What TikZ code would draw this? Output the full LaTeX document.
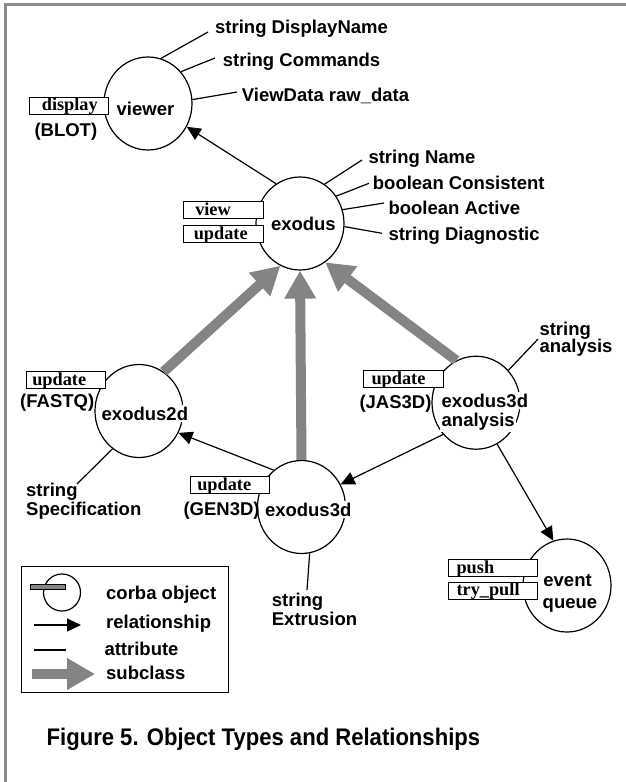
\documentclass[tikz,border=0pt]{standalone}
\usepackage{graphicx}
\usepackage{fontspec}
\setmainfont{Liberation Sans}
\newfontfamily\opfont{Liberation Serif}
\usetikzlibrary{arrows.meta,shapes.geometric}
\definecolor{subgray}{RGB}{132,132,132}
\definecolor{framegray}{RGB}{140,140,140}

\begin{document}
\begin{tikzpicture}[x=1pt,y=-1pt,
  obj/.style={draw,line width=1.2pt,ellipse,minimum width=88pt,minimum height=93pt,inner sep=0pt},
  lbl/.style={font=\fontsize{18.5}{20}\selectfont\bfseries,inner sep=0pt,anchor=base west},
  inlbl/.style={lbl,fill=white,inner sep=1.5pt},
  op/.style={draw,line width=1.1pt,fill=white,anchor=north west,inner ysep=0pt,
    text height=13.7pt,text depth=3.3pt,align=left,
    font=\opfont\fontsize{18.3}{20}\selectfont\bfseries},
  rel/.style={line width=1.2pt,-{Triangle[length=14pt,width=13pt]}},
  attr/.style={line width=1.2pt},
  sub/.style={line width=10pt,draw=subgray,-{Triangle[length=28pt,width=30pt]}},
]
\useasboundingbox (0,0) rectangle (626,782);
\fill[white] (0,0) rectangle (626,782);

% frame
\draw[line width=3pt,framegray] (5.3,782) -- (5.3,4.2) -- (626,4.2);

% objects
\node[obj] (viewer)   at (148,103.5) {};
\node[obj] (exodus)   at (300,223.5) {};
\node[obj] (exo2d)    at (139,411) {};
\node[obj] (exo3da)   at (476,402.7) {};
\node[obj] (exo3d)    at (301.5,507) {};
\node[obj] (evq)      at (567,585.5) {};

% subclass arrows
\draw[sub] (exo2d.58.6) -- (exodus.-115.4);
\draw[sub] (exo3d.north) -- (exodus.south);
\draw[sub] (exo3da.115.2) -- (exodus.-57.2);

% relationships
\draw[rel] (exodus.121) -- (viewer.-31.6);
\draw[rel] (exo3d.127.5) -- (exo2d.-29.6);
\draw[rel] (exo3da.224.7) -- (exo3d.30.1);
\draw[rel] (exo3da.-63.9) -- (evq.107.7);

% attribute ends
\coordinate (vA) at (208,32);
\coordinate (vB) at (215,58);
\coordinate (vC) at (237,92);
\coordinate (eA) at (362,160);
\coordinate (eB) at (369,183.3);
\coordinate (eC) at (384,203);
\coordinate (eD) at (382,233.3);
\coordinate (dA) at (77,484);
\coordinate (tA) at (307,590);
\coordinate (aA) at (538,339);

\draw[attr] (viewer.74.6) -- (vA);
\draw[attr] (viewer.44.5) -- (vB);
\draw[attr] (viewer.5.8) -- (vC);
\draw[attr] (exodus.58.6) -- (eA);
\draw[attr] (exodus.37) -- (eB);
\draw[attr] (exodus.18.3) -- (eC);
\draw[attr] (exodus.-4.9) -- (eD);
\draw[attr] (exo2d.-125.4) -- (dA);
\draw[attr] (exo3d.-80) -- (tA);
\draw[attr] (exo3da.45.6) -- (aA);

% attribute texts
\node[lbl] (tDisp) at (215,33.3) {string DisplayName};
\node[lbl] (tCmd)  at (222.7,66) {string Commands};
\node[lbl] (tRaw)  at (241.7,101.7) {ViewData raw\_data};
\node[lbl] (tName) at (368.3,163.3) {string Name};
\node[lbl] (tCons) at (372.7,189) {boolean Consistent};
\node[lbl] (tAct)  at (388.3,214.7) {boolean Active};
\node[lbl] (tDiag) at (388.3,240) {string Diagnostic};
\node[lbl] (tSpec1) at (26,496.7) {string};
\node[lbl] (tSpec2) at (26,515.5) {Specification};
\node[lbl] (tExt1) at (271.7,606.7) {string};
\node[lbl] (tExt2) at (271.7,625) {Extrusion};
\node[lbl] (tAn1)  at (539.3,335) {string};
\node[lbl] (tAn2)  at (539.3,352.7) {analysis};

% object names
\node[inlbl] (nViewer) at (115,115) {viewer};
\node[inlbl] (nExodus) at (269.3,230.7) {exodus};
\node[inlbl] (nExo2d)  at (100,420) {exodus2d};
\node[inlbl] (nExo3da1) at (440,407.3) {exodus3d};
\node[inlbl] (nExo3da2) at (440,426.7) {analysis};
\node[inlbl] (nExo3d)  at (263.3,516) {exodus3d};
\node[inlbl] (nEvq1)   at (541.7,586.7) {event};
\node[inlbl] (nEvq2)   at (541,608.3) {queue};

% implementations
\node[lbl] (iBlot)  at (34.3,136) {(BLOT)};
\node[lbl] (iFastq) at (20,407.3) {(FASTQ)};
\node[lbl] (iJas)   at (359.3,408.3) {(JAS3D)};
\node[lbl] (iGen)   at (183.3,515) {(GEN3D)};

% operations
\node[op,inner xsep=12pt,text width=55pt]   (oDisplay) at (29.3,96.7) {display};
\node[op,inner xsep=12pt,text width=56pt]   (oView)    at (182.7,201) {view};
\node[op,inner xsep=10.5pt,text width=59pt] (oUpd)     at (182.7,225) {update};
\node[op,inner xsep=6pt,text width=67.6pt]  (oUpd2d)   at (25.7,371) {update};
\node[op,inner xsep=7.7pt,text width=64.6pt] (oUpd3da) at (363.3,370) {update};
\node[op,inner xsep=6.7pt,text width=65.9pt] (oUpd3d)  at (190,476) {update};
\node[op,inner xsep=7.7pt,text width=73.6pt] (oPush)   at (448.3,559.3) {push};
\node[op,inner xsep=7.7pt,text width=73.6pt] (oPull)   at (448.3,581.7) {try\_pull};

% legend
\node[draw,line width=1.2pt,anchor=north west,minimum width=207pt,minimum height=126pt,inner sep=0pt] (legend) at (20.7,565.7) {};
\node[draw,circle,line width=1.2pt,minimum size=37pt,inner sep=0pt] (lgObj) at (62,592.5) {};
\node[draw,fill=subgray,line width=1pt,minimum width=35pt,minimum height=5pt,inner sep=0pt] (lgBar) at (47.5,586.8) {};
\coordinate (lrA) at (34,625);
\coordinate (lrB) at (81,625);
\coordinate (laA) at (34,650);
\coordinate (laB) at (66,650);
\coordinate (lsA) at (32.3,674);
\coordinate (lsB) at (95,674);
\draw[rel] (lrA) -- (lrB);
\draw[attr] (laA) -- (laB);
\draw[sub] (lsA) -- (lsB);
\node[lbl] (lgT1) at (106,599) {corba object};
\node[lbl] (lgT2) at (106,628.3) {relationship};
\node[lbl] (lgT3) at (104.3,655) {attribute};
\node[lbl] (lgT4) at (106,679.3) {subclass};

% caption
\node[anchor=base,inner sep=0pt,font=\fontsize{24}{28}\selectfont\bfseries] (caption) at (263.4,745)
  {\scalebox{0.92}[1]{Figure 5. Object Types and Relationships}};
\end{tikzpicture}
\end{document}
